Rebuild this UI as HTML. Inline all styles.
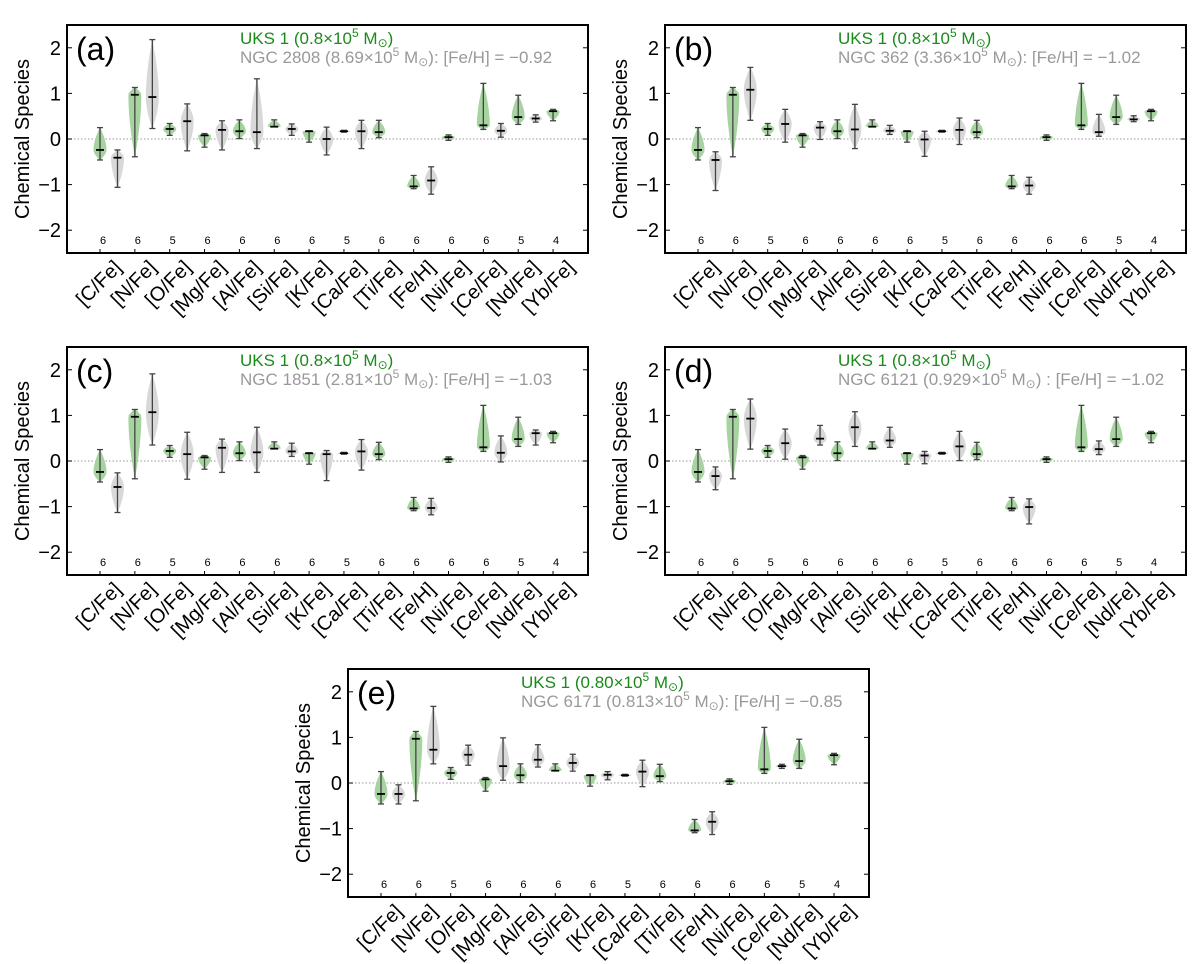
<!DOCTYPE html>
<html><head><meta charset="utf-8"><style>
body{margin:0;background:#fff;}
svg{display:block;font-family:"Liberation Sans","DejaVu Sans",sans-serif;}
</style></head><body>
<svg id="fig" width="1200" height="964" viewBox="0 0 1200 964"></svg>
<script>
const categories=["[C/Fe]","[N/Fe]","[O/Fe]","[Mg/Fe]","[Al/Fe]","[Si/Fe]","[K/Fe]","[Ca/Fe]","[Ti/Fe]","[Fe/H]","[Ni/Fe]","[Ce/Fe]","[Nd/Fe]","[Yb/Fe]"];
const counts=[6,6,5,6,6,6,6,5,6,6,6,6,5,4];
const greenMed=[-0.24,0.97,0.22,0.08,0.17,0.27,0.17,0.17,0.15,-1.04,0.04,0.30,0.48,0.61];
const greenMax=[0.25,1.13,0.34,0.12,0.42,0.42,0.18,0.19,0.41,-0.80,0.09,1.22,0.96,0.65];
const greenMin=[-0.46,-0.39,0.08,-0.18,0.01,0.27,-0.07,0.15,0.03,-1.09,-0.03,0.21,0.32,0.40];
const greyMedA=[-0.41,0.92,0.39,0.20,0.15,0.22,0.00,0.17,null,-0.91,null,0.18,0.45,null];
const greyMaxA=[-0.24,2.18,0.77,0.40,1.32,0.33,0.26,0.41,null,-0.61,null,0.34,0.53,null];
const greyMinA=[-1.06,0.23,-0.26,-0.24,-0.21,0.08,-0.35,-0.21,null,-1.21,null,0.04,0.37,null];
const greyMedB=[-0.46,1.08,0.33,0.25,0.21,0.18,-0.01,0.20,null,-1.02,null,0.15,0.43,null];
const greyMaxB=[-0.28,1.57,0.65,0.38,0.76,0.30,0.17,0.46,null,-0.84,null,0.54,0.51,null];
const greyMinB=[-1.13,0.41,-0.07,-0.01,-0.21,0.10,-0.38,-0.12,null,-1.21,null,0.06,0.38,null];
const greyMedC=[-0.57,1.07,0.15,0.29,0.19,0.21,0.15,0.21,null,-1.03,null,0.18,0.61,null];
const greyMaxC=[-0.26,1.91,0.63,0.48,0.74,0.39,0.23,0.47,null,-0.82,null,0.55,0.68,null];
const greyMinC=[-1.13,0.35,-0.40,-0.25,-0.25,0.10,-0.43,-0.20,null,-1.18,null,-0.02,0.35,null];
const greyMedD=[-0.33,0.93,0.39,0.49,0.74,0.45,0.12,0.32,null,-1.01,null,0.26,null,null];
const greyMaxD=[-0.13,1.36,0.70,0.78,1.08,0.74,0.21,0.65,null,-0.83,null,0.44,null,null];
const greyMinD=[-0.63,0.26,0.04,0.35,0.32,0.30,-0.06,0.01,null,-1.38,null,0.14,null,null];
const greyMedE=[-0.24,0.73,0.62,0.37,0.51,0.44,0.18,0.25,null,-0.85,null,0.37,null,null];
const greyMaxE=[-0.04,1.68,0.83,0.99,0.84,0.63,0.25,0.50,null,-0.63,null,0.41,null,null];
const greyMinE=[-0.46,0.42,0.39,0.06,0.35,0.26,0.07,-0.08,null,-1.13,null,0.32,null,null];
const yTicks=[-2,-1,0,1,2];

const NS="http://www.w3.org/2000/svg";
const svg=document.getElementById('fig');
function mk(tag,attrs,parent){const e=document.createElementNS(NS,tag);for(const k in attrs)e.setAttribute(k,attrs[k]);(parent||svg).appendChild(e);return e;}

const panels=[
 {id:"a",x:67,y:25,lab:"(a)",uks:"0.8",ngc:"NGC 2808 (8.69×10",ngc2:"): [Fe/H] = −0.92",med:greyMedA,mx:greyMaxA,mn:greyMinA},
 {id:"b",x:665,y:25,lab:"(b)",uks:"0.8",ngc:"NGC 362 (3.36×10",ngc2:"): [Fe/H] = −1.02",med:greyMedB,mx:greyMaxB,mn:greyMinB},
 {id:"c",x:67,y:347,lab:"(c)",uks:"0.8",ngc:"NGC 1851 (2.81×10",ngc2:"): [Fe/H] = −1.03",med:greyMedC,mx:greyMaxC,mn:greyMinC},
 {id:"d",x:665,y:347,lab:"(d)",uks:"0.8",ngc:"NGC 6121 (0.929×10",ngc2:") : [Fe/H] = −1.02",med:greyMedD,mx:greyMaxD,mn:greyMinD},
 {id:"e",x:348,y:669,lab:"(e)",uks:"0.80",ngc:"NGC 6171 (0.813×10",ngc2:"): [Fe/H] = −0.85",med:greyMedE,mx:greyMaxE,mn:greyMinE}
];
const W=521,H=228;

function violin(g,x,med,mn,mx,fill,yS,name){
  const grp=mk('g',{},g);
  
  
  const hw=6.5,N=24;
  const yMed=yS(med),yMn=yS(mn),yMx=yS(mx);
  let left=[],right=[];
  for(let k=0;k<=N;k++){
    const yy=yMx+(yMn-yMx)*k/N;
    let t;
    if(yy<=yMed){t=(yMed-yy)/Math.max(yMed-yMx,0.5);}else{t=(yy-yMed)/Math.max(yMn-yMed,0.5);}
    const w=hw*Math.max(0.15,1-Math.pow(Math.min(t,1),1.8));
    right.push([x+w,yy]);left.push([x-w,yy]);
  }
  const pts=right.concat(left.reverse()).map(p=>p[0].toFixed(1)+","+p[1].toFixed(1)).join(" ");
  mk('polygon',{points:pts,fill:fill,stroke:'none'},grp);
  mk('line',{x1:x,x2:x,y1:yMx,y2:yMn,stroke:'#444','stroke-width':1.3},grp);
  mk('line',{x1:x-3,x2:x+3,y1:yMx,y2:yMx,stroke:'#444','stroke-width':1.3},grp);
  mk('line',{x1:x-3,x2:x+3,y1:yMn,y2:yMn,stroke:'#444','stroke-width':1.3},grp);
  mk('line',{x1:x-4,x2:x+4,y1:yMed,y2:yMed,stroke:'#000','stroke-width':1.8},grp);
}

panels.forEach(p=>{
  const g=mk('g',{});
  
  
  const yS=v=>p.y+H/2-v*(H/5);
  const xS=i=>p.x+33+i*34.85;
  mk('line',{x1:p.x,x2:p.x+W,y1:yS(0),y2:yS(0),stroke:'#999','stroke-width':1,'stroke-dasharray':'1.5,2'},g);
  categories.forEach((c,i)=>{
    violin(g,xS(i),greenMed[i],greenMin[i],greenMax[i],'#a6d3a0',yS,'uks1-violin-'+i);
    if(p.med[i]!==null) violin(g,xS(i)+17.5,p.med[i],p.mn[i],p.mx[i],'#d8d8d8',yS,'comparison-violin-'+i);
    const ct=mk('text',{x:xS(i)+3,y:p.y+H-9,'font-size':11,'text-anchor':'middle',fill:'#000'},g);
    ct.textContent=counts[i];
    
    
    mk('line',{x1:xS(i),x2:xS(i),y1:p.y+H,y2:p.y+H-4,stroke:'#000','stroke-width':1},g);
    const xl=mk('text',{transform:`translate(${xS(i)+13},${p.y+H+6}) rotate(-45)`,'font-size':20,'text-anchor':'end','dominant-baseline':'hanging',fill:'#000'},g);
    xl.textContent=c;
    
    
  });
  yTicks.forEach(v=>{
    mk('line',{x1:p.x,x2:p.x+5,y1:yS(v),y2:yS(v),stroke:'#000','stroke-width':1},g);
    mk('line',{x1:p.x+W-5,x2:p.x+W,y1:yS(v),y2:yS(v),stroke:'#000','stroke-width':1},g);
    const t=mk('text',{x:p.x-6,y:yS(v)+7,'font-size':20,'text-anchor':'end',fill:'#000'},g);
    t.textContent=(v<0?'−':'')+Math.abs(v);
    
    
  });
  const fr=mk('rect',{x:p.x,y:p.y,width:W,height:H,fill:'none',stroke:'#000','stroke-width':2},g);
  
  
  const yt=mk('text',{transform:`translate(${p.x-38},${p.y+H/2}) rotate(-90)`,'font-size':20,'text-anchor':'middle',fill:'#000'},g);
  yt.textContent='Chemical Species';
  
  
  const pl=mk('text',{x:p.x+9,y:p.y+35,'font-size':32,fill:'#000'},g);
  pl.textContent=p.lab;
  
  
  const l1=mk('text',{x:p.x+173,y:p.y+19,'font-size':17,fill:'#1a8a1a'},g);
  l1.innerHTML=`UKS 1 (${p.uks}×10<tspan dy="-7" font-size="12">5</tspan><tspan dy="7"> M</tspan><tspan dy="3" font-size="12">⊙</tspan><tspan dy="-3">)</tspan>`;
  
  
  const l2=mk('text',{x:p.x+173,y:p.y+38,'font-size':17,fill:'#999'},g);
  l2.innerHTML=`${p.ngc}<tspan dy="-7" font-size="12">5</tspan><tspan dy="7"> M</tspan><tspan dy="3" font-size="12">⊙</tspan><tspan dy="-3">${p.ngc2}</tspan>`;
  
  
});
</script>
</body></html>
